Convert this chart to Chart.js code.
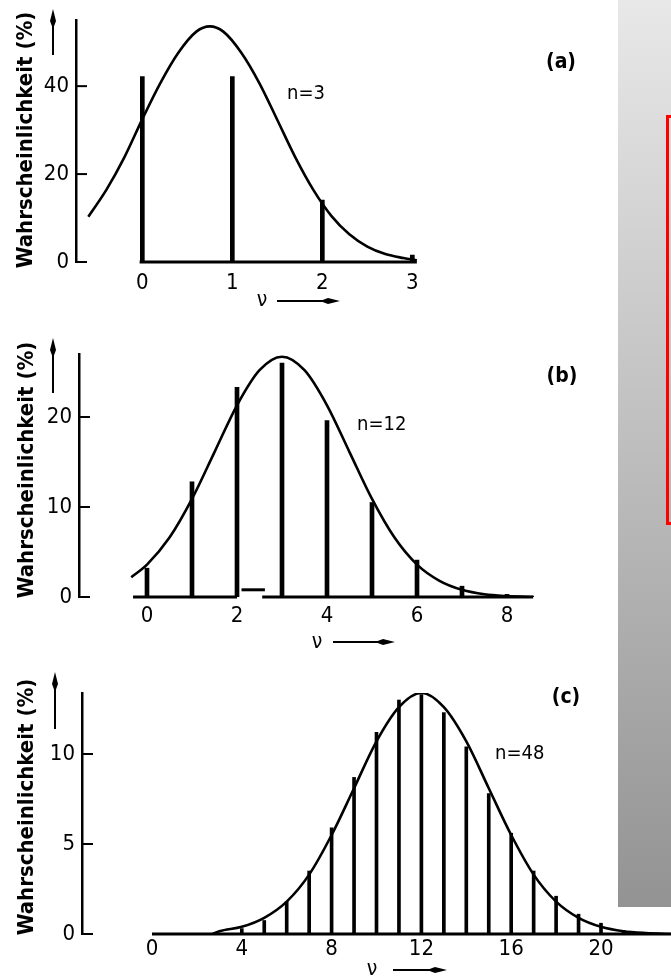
<!DOCTYPE html>
<html>
<head>
<meta charset="utf-8">
<title>Binomialverteilung n=3, 12, 48</title>
<script src="https://cdn.jsdelivr.net/npm/chart.js@4.4.1/dist/chart.umd.min.js"></script>
<style>
  html, body { margin: 0; padding: 0; background: #fff; }
  body { width: 671px; height: 980px; position: relative; overflow: hidden; }
  .plot { position: absolute; left: 0; width: 671px; }
  #boxA { top: 0; height: 320px; }
  #boxB { top: 320px; height: 340px; }
  #boxC { top: 660px; height: 320px; }
  .side { position: absolute; left: 618px; top: 0; width: 53px; height: 907px;
          background: linear-gradient(#e8e8e8, #939393); }
  .frame { position: absolute; left: 666px; top: 115px; width: 30px; height: 410px;
           border: 3px solid #ff0000; box-sizing: border-box; }
</style>
</head>
<body>
<div class="plot" id="boxA"><canvas id="chartA"></canvas></div>
<div class="plot" id="boxB"><canvas id="chartB"></canvas></div>
<div class="plot" id="boxC"><canvas id="chartC"></canvas></div>
<div class="side"></div>
<div class="frame"></div>
<script>
// (a) n = 3
const aBarNu = [0, 1, 2, 3];
const aBarPct = [42.2, 42.2, 14.1, 1.6];
const aCurveNu = [-0.6, -0.4, -0.2, 0, 0.2, 0.4, 0.6, 0.75, 0.9, 1.1, 1.3, 1.5, 1.7, 1.9, 2.1, 2.3, 2.5, 2.7, 2.9, 3.05];
const aCurvePct = [10.3, 16.4, 23.8, 32.5, 40.7, 47.6, 52.4, 53.6, 52.4, 47.6, 40.7, 32.3, 23.8, 16.4, 10.5, 6.3, 3.5, 1.8, 0.9, 0.4];
const aTicksX = [0, 1, 2, 3];
const aTicksY = [0, 20, 40];

// (b) n = 12
const bBarNu = [0, 1, 2, 3, 4, 5, 6, 7, 8];
const bBarPct = [3.2, 12.8, 23.3, 26.0, 19.6, 10.5, 4.1, 1.2, 0.3];
const bCurveNu = [-0.35, 0, 0.5, 1, 1.5, 2, 2.5, 3, 3.5, 4, 4.5, 5, 5.5, 6, 6.5, 7, 7.5, 8, 8.6];
const bCurvePct = [2.2, 3.6, 6.6, 10.9, 16.1, 21.3, 25.2, 26.7, 25.2, 21.3, 16.1, 10.9, 6.6, 3.6, 1.8, 0.8, 0.3, 0.1, 0];
const bTicksX = [0, 2, 4, 6, 8];
const bTicksY = [0, 10, 20];

// (c) n = 48
const cBarNu = [4, 5, 6, 7, 8, 9, 10, 11, 12, 13, 14, 15, 16, 17, 18, 19, 20, 21];
const cBarPct = [0.3, 0.75, 1.8, 3.5, 5.9, 8.7, 11.2, 13.0, 13.3, 12.3, 10.4, 7.8, 5.6, 3.5, 2.1, 1.1, 0.6, 0.2];
const cCurveNu = [2.7, 3, 4, 5, 6, 7, 8, 9, 10, 11, 12, 13, 14, 15, 16, 17, 18, 19, 20, 21, 22, 23.1];
const cCurvePct = [0, 0.15, 0.4, 0.9, 1.8, 3.3, 5.5, 8.1, 10.7, 12.6, 13.4, 12.6, 10.7, 8.1, 5.5, 3.3, 1.8, 0.9, 0.4, 0.15, 0.05, 0];
const cTicksX = [0, 4, 8, 12, 16, 20];
const cTicksY = [0, 5, 10];

const FONT = '"DejaVu Sans Condensed", "Liberation Sans Narrow", "DejaVu Sans", sans-serif';
Chart.defaults.color = '#000';

function arrow(ctx, x1, y1, x2, y2) {
    const len = Math.hypot(x2 - x1, y2 - y1);
    const ux = (x2 - x1) / len, uy = (y2 - y1) / len;
    ctx.lineWidth = 2;
    ctx.beginPath();
    ctx.moveTo(x1, y1);
    ctx.lineTo(x2 - ux * 6, y2 - uy * 6);
    ctx.stroke();
    const hl = 20, hw = 3;
    const bx = x2 - ux * hl, by = y2 - uy * hl;
    const mx = x2 - ux * hl * 0.6, my = y2 - uy * hl * 0.6;
    ctx.beginPath();
    ctx.moveTo(bx, by);
    ctx.lineTo(mx - uy * hw, my + ux * hw);
    ctx.lineTo(x2, y2);
    ctx.lineTo(mx + uy * hw, my - ux * hw);
    ctx.closePath();
    ctx.fill();
}

function makeDecor(cfg) {
    return {
        id: 'decor',
        beforeDatasetsDraw(chart) {
            const { ctx, chartArea } = chart;
            const x = chart.scales.x, y = chart.scales.y;
            ctx.save();
            ctx.strokeStyle = '#000';
            ctx.lineWidth = 3;
            cfg.baseline.forEach(([a, b, lvl = 0]) => {
                ctx.beginPath();
                ctx.moveTo(x.getPixelForValue(a), y.getPixelForValue(lvl));
                ctx.lineTo(x.getPixelForValue(b), y.getPixelForValue(lvl));
                ctx.stroke();
            });
            // tick marks point inward in the original
            ctx.lineWidth = 2;
            y.ticks.forEach(t => {
                const py = y.getPixelForValue(t.value);
                ctx.beginPath();
                ctx.moveTo(chartArea.left, py);
                ctx.lineTo(chartArea.left + 11, py);
                ctx.stroke();
            });
            ctx.restore();
        },
        afterDraw(chart) {
            const { ctx } = chart;
            ctx.save();
            ctx.fillStyle = '#000';
            ctx.strokeStyle = '#000';

            // y title + arrow
            ctx.save();
            ctx.translate(cfg.yTitle.x, cfg.yTitle.y);
            ctx.rotate(-Math.PI / 2);
            ctx.font = `bold 22px ${FONT}`;
            ctx.textAlign = 'center';
            ctx.textBaseline = 'middle';
            ctx.fillText('Wahrscheinlichkeit (%)', 0, 0);
            ctx.restore();
            arrow(ctx, cfg.yArrow.x, cfg.yArrow.from, cfg.yArrow.x, cfg.yArrow.to);

            // x title: nu with arrow
            ctx.font = `21px ${FONT}`;
            ctx.textAlign = 'center';
            ctx.textBaseline = 'alphabetic';
            ctx.fillText('ν', cfg.xTitle.x, cfg.xTitle.y);
            arrow(ctx, cfg.xTitle.from, cfg.xTitle.ay, cfg.xTitle.to, cfg.xTitle.ay);

            // n label and panel letter
            ctx.textBaseline = 'middle';
            ctx.textAlign = 'left';
            ctx.font = `20px ${FONT}`;
            ctx.fillText(cfg.nLabel.text, cfg.nLabel.x, cfg.nLabel.y);
            ctx.textAlign = 'center';
            ctx.font = `bold 21px ${FONT}`;
            ctx.fillText(cfg.panel.text, cfg.panel.x, cfg.panel.y);
            ctx.restore();
        }
    };
}

function buildChart(id, cfg) {
    const tickFont = { family: FONT, size: 22 };
    return new Chart(document.getElementById(id), {
        type: 'bar',
        data: {
            datasets: [
                {
                    type: 'bar',
                    data: cfg.barNu.map((v, i) => ({ x: v, y: cfg.barPct[i] })),
                    backgroundColor: '#000',
                    borderWidth: 0,
                    barThickness: cfg.barWidth
                },
                {
                    type: 'line',
                    data: cfg.curveNu.map((v, i) => ({ x: v, y: cfg.curvePct[i] })),
                    borderColor: '#000',
                    borderWidth: 2.6,
                    pointRadius: 0,
                    fill: false,
                    cubicInterpolationMode: 'monotone'
                }
            ]
        },
        options: {
            responsive: true,
            maintainAspectRatio: false,
            animation: false,
            layout: { padding: { top: cfg.top, left: 0, right: 0, bottom: 0 } },
            plugins: { legend: { display: false }, tooltip: { enabled: false } },
            scales: {
                x: {
                    type: 'linear',
                    min: cfg.xMin,
                    max: cfg.xMax,
                    offset: false,
                    grid: { display: false, drawTicks: false },
                    border: { display: false },
                    afterBuildTicks: s => { s.ticks = cfg.ticksX.map(v => ({ value: v })); },
                    afterFit: s => { s.height = cfg.xHeight; },
                    ticks: { autoSkip: false, maxRotation: 0, padding: cfg.xPad, font: tickFont, color: '#000' }
                },
                y: {
                    min: 0,
                    max: cfg.yMax,
                    grid: { display: false, drawTicks: false },
                    border: { display: true, color: '#000', width: 2.5 },
                    afterBuildTicks: s => { s.ticks = cfg.ticksY.map(v => ({ value: v })); },
                    afterFit: s => { s.width = cfg.left; },
                    ticks: { padding: 7, font: tickFont, color: '#000' }
                }
            }
        },
        plugins: [makeDecor(cfg)]
    });
}

buildChart('chartA', {
    barNu: aBarNu, barPct: aBarPct, curveNu: aCurveNu, curvePct: aCurvePct,
    ticksX: aTicksX, ticksY: aTicksY, barWidth: 4,
    top: 15, left: 76, xHeight: 58, xPad: 8,
    xMin: -0.737, xMax: 5.874, yMax: 55,
    baseline: [[-0.03, 3.05]],
    yTitle: { x: 26, y: 140 }, yArrow: { x: 53, from: 55, to: 9 },
    xTitle: { x: 262, y: 306, from: 277, to: 340, ay: 301 },
    nLabel: { text: 'n=3', x: 287, y: 94 },
    panel: { text: '(a)', x: 561, y: 63 }
});

buildChart('chartB', {
    barNu: bBarNu, barPct: bBarPct, curveNu: bCurveNu, curvePct: bCurvePct,
    ticksX: bTicksX, ticksY: bTicksY, barWidth: 4,
    top: 34, left: 79, xHeight: 63, xPad: 6,
    xMin: -1.511, xMax: 11.644, yMax: 27,
    baseline: [[-0.31, 2.0], [2.1, 2.62, 0.8], [2.56, 8.58]],
    yTitle: { x: 27, y: 150 }, yArrow: { x: 53, from: 73, to: 18 },
    xTitle: { x: 317, y: 328, from: 333, to: 395, ay: 322 },
    nLabel: { text: 'n=12', x: 357, y: 105 },
    panel: { text: '(b)', x: 562, y: 57 }
});

buildChart('chartC', {
    barNu: cBarNu, barPct: cBarPct, curveNu: cCurveNu, curvePct: cCurvePct,
    ticksX: cTicksX, ticksY: cTicksY, barWidth: 3,
    top: 33, left: 82, xHeight: 46, xPad: 2,
    xMin: -3.118, xMax: 23.118, yMax: 13.39,
    baseline: [[0, 23.118]],
    yTitle: { x: 27, y: 147 }, yArrow: { x: 55, from: 69, to: 12 },
    xTitle: { x: 372, y: 315, from: 393, to: 447, ay: 310 },
    nLabel: { text: 'n=48', x: 495, y: 94 },
    panel: { text: '(c)', x: 566, y: 38 }
});
</script>
</body>
</html>
